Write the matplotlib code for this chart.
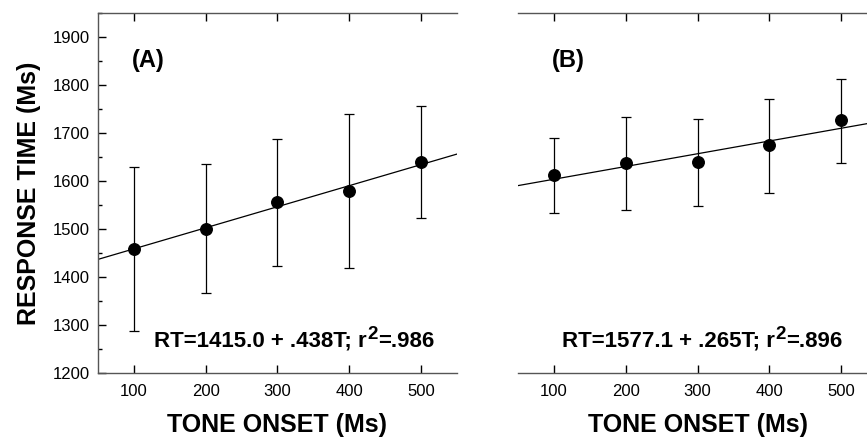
import numpy as np
import matplotlib
matplotlib.use("Agg")
import matplotlib.pyplot as plt
import matplotlib.transforms as mtransforms
from matplotlib.ticker import MultipleLocator

plt.rcParams['font.family'] = ['Liberation Sans', 'DejaVu Sans']

# Data
onset = [100, 200, 300, 400, 500]

rt_a = [1459, 1501, 1557, 1579, 1640]
upper_a = [1628, 1636, 1688, 1739, 1756]
lower_a = [1288, 1366, 1424, 1418, 1523]

rt_b = [1612, 1637, 1639, 1674, 1727]
upper_b = [1690, 1732, 1729, 1771, 1813]
lower_b = [1534, 1540, 1548, 1575, 1637]

fit_a = (1415.0, 0.438)
fit_b = (1577.1, 0.265)
eq_a = ("RT=1415.0 + .438T; r", "2", "=.986")
eq_b = ("RT=1577.1 + .265T; r", "2", "=.896")

fig = plt.figure(figsize=(8.67, 4.4), dpi=100)
ax_a = fig.add_axes([0.113, 0.1516, 0.414, 0.8196])
ax_b = fig.add_axes([0.5975, 0.1516, 0.414, 0.8196])

spine_col = '#555555'


def draw_panel(ax, rt, upper, lower, fit, letter, show_y):
    rt = np.array(rt)
    yerr = [rt - np.array(lower), np.array(upper) - rt]
    xs = np.array([50, 550])
    ax.plot(xs, fit[0] + fit[1] * xs, color='black', lw=0.9, zorder=2)
    ax.errorbar(onset, rt, yerr=yerr, fmt='o', color='black', ms=8.3,
                ecolor='black', elinewidth=0.9, capsize=3.6, capthick=0.9,
                zorder=3)
    ax.set_xlim(50, 550)
    ax.set_ylim(1200, 1950)
    ax.set_xticks(onset)
    ax.spines['right'].set_visible(False)
    for s in ['top', 'bottom', 'left']:
        ax.spines[s].set_color(spine_col)
        ax.spines[s].set_linewidth(1.0)
    ax.tick_params(axis='x', direction='in', top=True, length=6, width=1,
                   labelsize=12, pad=8)
    if show_y:
        ax.set_yticks(np.arange(1200, 1901, 100))
        ax.yaxis.set_minor_locator(MultipleLocator(50))
        ax.tick_params(axis='y', which='major', direction='in', length=6,
                       width=1, labelsize=12, pad=6)
        ax.tick_params(axis='y', which='minor', direction='in', length=3,
                       width=1)
        ax.set_ylabel("RESPONSE TIME (Ms)", fontsize=18, fontweight='bold',
                      labelpad=8)
    else:
        ax.spines['left'].set_visible(False)
        ax.set_yticks([])
    ax.set_xlabel("TONE ONSET (Ms)", fontsize=18, fontweight='bold',
                  labelpad=10)
    ax.text(97, 1838, letter, fontsize=17, fontweight='bold')
    return ax


draw_panel(ax_a, rt_a, upper_a, lower_a, fit_a, "(A)", True)
draw_panel(ax_b, rt_b, upper_b, lower_b, fit_b, "(B)", False)


# Equation with a large superscript, built from three text pieces
def equation(ax, x, y, parts):
    fig.canvas.draw()
    r = fig.canvas.get_renderer()
    t1 = ax.text(x, y, parts[0], fontsize=16, fontweight='bold',
                 va='baseline')
    w1 = t1.get_window_extent(r).width
    tr2 = mtransforms.offset_copy(ax.transData, fig=fig, x=w1 + 0.5, y=8,
                                  units='dots')
    t2 = ax.text(x, y, parts[1], fontsize=13.5, fontweight='bold',
                 va='baseline', transform=tr2)
    w2 = t2.get_window_extent(r).width
    tr3 = mtransforms.offset_copy(ax.transData, fig=fig, x=w1 + w2 + 1,
                                  y=0, units='dots')
    ax.text(x, y, parts[2], fontsize=16, fontweight='bold',
            va='baseline', transform=tr3)


equation(ax_a, 128, 1255, eq_a)
equation(ax_b, 111, 1255, eq_b)

plt.savefig("out.png", dpi=100)
